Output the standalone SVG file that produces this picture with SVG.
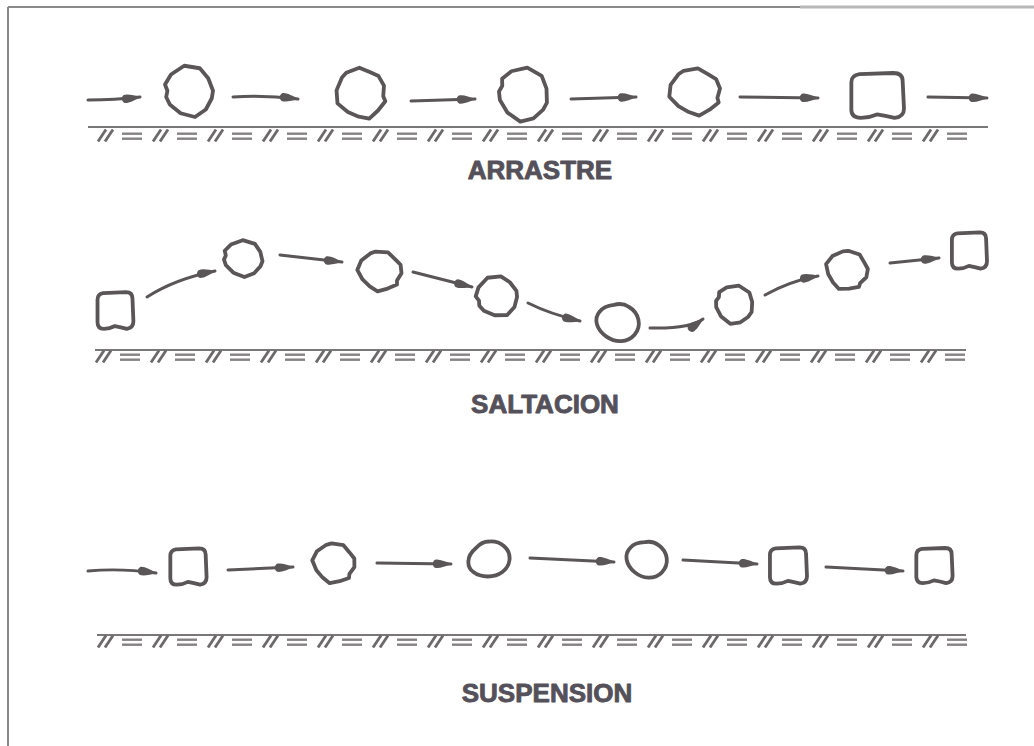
<svg xmlns="http://www.w3.org/2000/svg" xmlns:xlink="http://www.w3.org/1999/xlink" width="1034" height="746" viewBox="0 0 1034 746">
  <style>
    .rock { fill: none; stroke: #5a5557; stroke-width: 3.8; stroke-linejoin: round; vector-effect: non-scaling-stroke; }
    .flow { fill: none; stroke: #5a5557; stroke-width: 3; stroke-linecap: round; marker-end: url(#head); }
    .ground { stroke: #7a7779; stroke-width: 2; }
    .label { font-family: "Liberation Sans", Arial, sans-serif; font-weight: bold; font-size: 26px; fill: #55515a; stroke: #55515a; stroke-width: 0.9; stroke-linejoin: round; text-anchor: middle; }
    .frame { stroke: #8c898b; stroke-width: 2; fill: none; }
  </style>
  <defs>
    <!-- teardrop arrowhead -->
    <marker id="head" markerUnits="userSpaceOnUse" markerWidth="24" markerHeight="14" viewBox="-20 -7 24 14" refX="1" refY="0" orient="auto">
      <path d="M2,0 C-5,-2.5 -11,-5 -15,-4 C-18,-2 -18,2 -15,4 C-11,5 -5,2.5 2,0 Z" fill="#5a5557"/>
    </marker>
    <!-- hatched bed symbol: // = repeated -->
    <pattern id="bed" patternUnits="userSpaceOnUse" width="55" height="14">
      <g stroke="#6c696b" stroke-width="2.8" stroke-linecap="butt">
        <line x1="11" y1="0.5" x2="3" y2="12.5"/>
        <line x1="18" y1="0.5" x2="10" y2="12.5"/>
      </g>
      <rect x="27" y="3.5" width="20" height="2.4" fill="#858284"/>
      <rect x="27" y="8.5" width="20" height="2.4" fill="#858284"/>
    </pattern>
    <!-- pebble outlines, roughly 40 units across -->
    <path id="rockA" class="rock" d="M-4,-21 L9,-19 L16,-11 L20,-1 L19,5 L14,14 L5,20 L-7,17 L-16,10 L-19,4 L-18,-1 L-20,-6 L-15,-14 Z"/>
    <path id="rockB" class="rock" d="M-13,-19 L12,-20 Q19,-20 19,-13 L20,11 Q20,18 13,19 Q6,17 0,16 Q-6,19 -12,19 Q-19,19 -19,12 L-19,-12 Q-19,-18 -13,-19 Z"/>
    <path id="rockC" class="rock" d="M-8,-18 L3,-20 L11,-15 L17,-11 L20,-3 L18,5 L19,9 L12,15 L4,20 L-4,17 L-12,12 L-19,4 L-18,-6 L-12,-15 Z"/>
    <path id="rockD" class="rock" d="M0,-19 C11,-20 20,-11 19,1 C18,12 9,19 -1,19 C-12,19 -20,12 -19,2 C-19,-4 -16,-8 -12,-12 C-9,-16 -5,-19 0,-19 Z"/>
  </defs>

  <rect width="1034" height="746" fill="#ffffff"/>

  <!-- sheet border -->
  <g id="border">
    <line class="frame" x1="8" y1="7" x2="8" y2="746"/>
    <line class="frame" x1="8" y1="7" x2="800" y2="7"/>
    <line x1="800" y1="7" x2="1034" y2="7" stroke="#b8b6b7" stroke-width="3"/>
  </g>

  <!-- beds -->
  <g id="bed-arrastre">
    <line class="ground" x1="88" y1="127" x2="988" y2="127"/>
    <g transform="translate(95,129)"><rect width="872" height="13" fill="url(#bed)"/></g>
  </g>
  <g id="bed-saltacion">
    <line class="ground" x1="95" y1="350" x2="966" y2="350"/>
    <g transform="translate(93,350)"><rect width="874" height="13" fill="url(#bed)"/></g>
  </g>
  <g id="bed-suspension">
    <line class="ground" x1="97" y1="635" x2="966" y2="635"/>
    <g transform="translate(95,635)"><rect width="872" height="13" fill="url(#bed)"/></g>
  </g>

  <!-- pebbles: bed load -->
  <g id="arrastre-1" transform="translate(189,92) scale(1.2,1.25)"><use href="#rockA"/></g>
  <g id="arrastre-2" transform="translate(360,94) scale(1.25,1.3) rotate(-10)"><use href="#rockC"/></g>
  <g id="arrastre-3" transform="translate(523,95) scale(1.25,1.3) rotate(20)"><use href="#rockA"/></g>
  <g id="arrastre-4" transform="translate(694,92) scale(1.3,1.18)"><use href="#rockC"/></g>
  <g id="arrastre-5" transform="translate(877,96) scale(1.35,1.15)"><use href="#rockB"/></g>

  <!-- pebbles: saltation -->
  <g id="saltacion-1" transform="translate(115,311) scale(0.92,0.94)"><use href="#rockB"/></g>
  <g id="saltacion-2" transform="translate(243,259) scale(0.98,0.88) rotate(10)"><use href="#rockA"/></g>
  <g id="saltacion-3" transform="translate(379,271) scale(1.12,1.0) rotate(15)"><use href="#rockC"/></g>
  <g id="saltacion-4" transform="translate(497,297) scale(1.02,1.0) rotate(-15)"><use href="#rockA"/></g>
  <g id="saltacion-5" transform="translate(618,322) rotate(35) scale(1.1,0.98)"><use href="#rockD"/></g>
  <g id="saltacion-6" transform="translate(734,305) scale(0.95,0.93) rotate(25)"><use href="#rockA"/></g>
  <g id="saltacion-7" transform="translate(846,270) scale(1.08,0.98) rotate(30)"><use href="#rockC"/></g>
  <g id="saltacion-8" transform="translate(969,251) scale(0.9,0.93)"><use href="#rockB"/></g>

  <!-- pebbles: suspension -->
  <g id="suspension-1" transform="translate(188,567) scale(0.93,0.93)"><use href="#rockB"/></g>
  <g id="suspension-2" transform="translate(333,563) scale(1.08,1.0) rotate(20)"><use href="#rockC"/></g>
  <g id="suspension-3" transform="translate(489,559) scale(1.08,0.92)"><use href="#rockD"/></g>
  <g id="suspension-4" transform="translate(647,559) rotate(40) scale(1.05,0.95)"><use href="#rockD"/></g>
  <g id="suspension-5" transform="translate(788,566) scale(0.95,0.93)"><use href="#rockB"/></g>
  <g id="suspension-6" transform="translate(934,566) scale(0.93,0.9)"><use href="#rockB"/></g>

  <!-- flow arrows -->
  <g id="connectors">
    <path class="flow" d="M88,100 Q115,100 140,97"/>
    <path class="flow" d="M233,97 Q265,95 298,99"/>
    <path class="flow" d="M411,101 L475,99"/>
    <path class="flow" d="M571,99 L636,97"/>
    <path class="flow" d="M740,97 L818,98"/>
    <path class="flow" d="M928,97 L987,98"/>

    <path class="flow" d="M147,297 Q175,279 215,271"/>
    <path class="flow" d="M280,255 L342,262"/>
    <path class="flow" d="M413,272 L472,287"/>
    <path class="flow" d="M528,303 Q550,314 580,321"/>
    <path class="flow" d="M650,328 Q690,329 703,319"/>
    <path class="flow" d="M765,295 Q790,281 818,276"/>
    <path class="flow" d="M890,263 L939,258"/>

    <path class="flow" d="M88,571 Q120,568 156,573"/>
    <path class="flow" d="M228,570 L293,567"/>
    <path class="flow" d="M377,563 L451,564"/>
    <path class="flow" d="M530,558 L614,562"/>
    <path class="flow" d="M683,560 L757,564"/>
    <path class="flow" d="M826,567 L903,571"/>
  </g>

  <!-- captions -->
  <text class="label" x="540" y="179">ARRASTRE</text>
  <text class="label" x="545" y="413">SALTACION</text>
  <text class="label" x="547" y="702">SUSPENSION</text>
</svg>
